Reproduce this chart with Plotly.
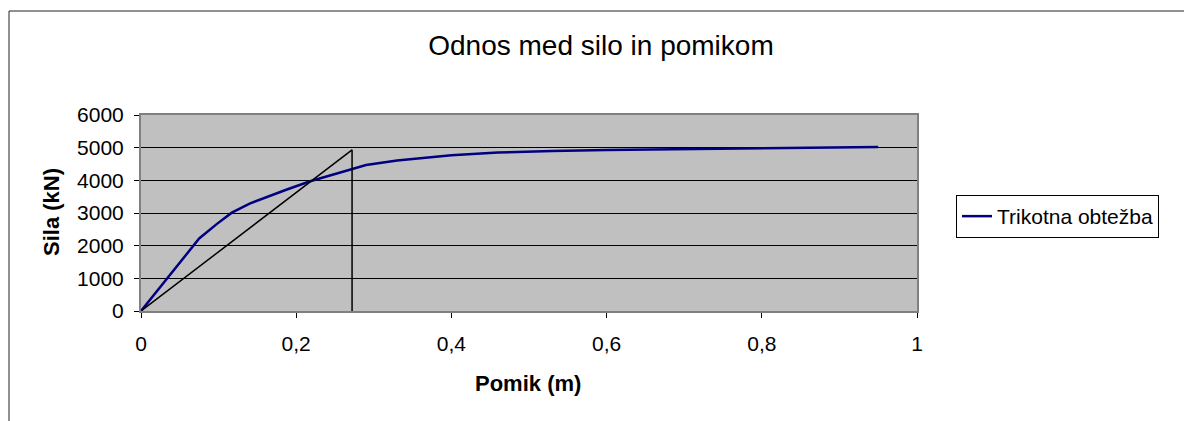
import plotly.graph_objects as go

# Force-displacement curve (triangular load)
pomik = [0, 0.03, 0.05, 0.075, 0.0975, 0.117, 0.14, 0.162, 0.188, 0.218, 0.248, 0.272,
         0.29, 0.33, 0.40, 0.46, 0.53, 0.60, 0.70, 0.80, 0.95]
sila = [0, 890, 1480, 2220, 2660, 3010, 3290, 3490, 3720, 3970, 4170, 4350,
        4470, 4610, 4770, 4850, 4900, 4925, 4955, 4985, 5020]

# Auxiliary triangle (secant stiffness and vertical drop)
tri_x = [0, 0.272, 0.272]
tri_y = [0, 4930, 0]

x_ticks = [0, 0.2, 0.4, 0.6, 0.8, 1]
x_tick_text = ["0", "0,2", "0,4", "0,6", "0,8", "1"]
y_ticks = [0, 1000, 2000, 3000, 4000, 5000, 6000]

FONT = "Liberation Sans, Arial, sans-serif"

# plot-area geometry in pixels
W, H = 1184, 421
L, R, T, B = 141, 917, 115, 311
pw, ph = R - L, B - T


def px(xp):
    return (xp - L) / pw


def py(yp):
    return (B - yp) / ph


fig = go.Figure()
fig.add_trace(go.Scatter(
    x=pomik, y=sila, mode="lines", name="Trikotna obtežba",
    line=dict(color="#000080", width=2.5),
))
fig.add_trace(go.Scatter(
    x=tri_x, y=tri_y, mode="lines", showlegend=False,
    line=dict(color="black", width=1.5),
))

fig.update_layout(
    width=W, height=H,
    margin=dict(l=L, r=W - R, t=T, b=H - B),
    paper_bgcolor="white",
    plot_bgcolor="#C0C0C0",
    separators=",.",
    font=dict(family=FONT, size=21, color="black"),
    title=dict(
        text="Odnos med silo in pomikom",
        font=dict(family=FONT, size=28, color="black"),
        xref="container", yref="container",
        x=601 / W, y=1 - 45 / H, xanchor="center", yanchor="middle",
    ),
    xaxis=dict(
        range=[0, 1], tickvals=x_ticks, ticktext=x_tick_text,
        showgrid=False, zeroline=False,
        showline=True, linecolor="#808080", linewidth=2, mirror=True,
        ticks="outside", ticklen=5, tickcolor="black", tickwidth=1,
        ticklabelstandoff=8,
        tickfont=dict(family=FONT, size=21, color="black"),
    ),
    yaxis=dict(
        range=[0, 6000], tickvals=y_ticks,
        showgrid=True, gridcolor="black", gridwidth=1, zeroline=False,
        showline=True, linecolor="#808080", linewidth=2, mirror=True,
        ticks="outside", ticklen=5, tickcolor="black", tickwidth=1,
        ticklabelstandoff=6,
        tickfont=dict(family=FONT, size=21, color="black"),
    ),
    legend=dict(
        x=px(956), y=py(195), xanchor="left", yanchor="top",
        bgcolor="white", bordercolor="black", borderwidth=1,
        font=dict(family=FONT, size=21, color="black"),
        tracegroupgap=0,
    ),
    annotations=[
        dict(text="<b>Pomik (m)</b>", xref="paper", yref="paper",
             x=px(528), y=py(383), xanchor="center", yanchor="middle",
             showarrow=False, font=dict(family=FONT, size=22, color="black")),
        dict(text="<b>Sila (kN)</b>", xref="paper", yref="paper",
             x=px(51), y=py(212), xanchor="center", yanchor="middle",
             textangle=-90, showarrow=False,
             font=dict(family=FONT, size=22, color="black")),
    ],
    shapes=[
        dict(type="line", xref="paper", yref="paper",
             x0=px(9), x1=px(9), y0=py(11), y1=py(H + 20),
             line=dict(color="#222222", width=1)),
        dict(type="line", xref="paper", yref="paper",
             x0=px(9), x1=px(W + 20), y0=py(11), y1=py(11),
             line=dict(color="#222222", width=1)),
    ],
)

fig.write_html("out.html")
